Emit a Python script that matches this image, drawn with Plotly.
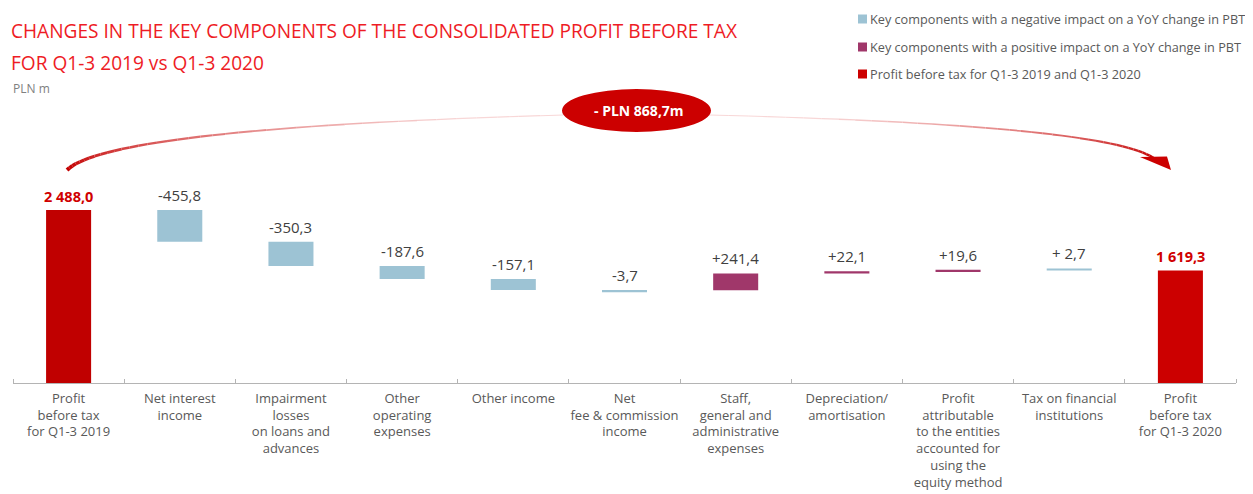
import plotly.graph_objects as go

# ---------------- data ----------------
categories = [
    "Profit<br>before tax<br>for Q1-3 2019",
    "Net interest<br>income",
    "Impairment<br>losses<br>on loans and<br>advances",
    "Other<br>operating<br>expenses",
    "Other income",
    "Net<br>fee & commission<br>income",
    "Staff,<br>general and<br>administrative<br>expenses",
    "Depreciation/<br>amortisation",
    "Profit<br>attributable<br>to the entities<br>accounted for<br>using the<br>equity method",
    "Tax on financial<br>institutions",
    "Profit<br>before tax<br>for Q1-3 2020",
]
start_total = 2488.0
end_total = 1619.3
change_values = [-455.8, -350.3, -187.6, -157.1, -3.7, 241.4, 22.1, 19.6, 2.7]
change_impact = ["neg", "neg", "neg", "neg", "neg", "pos", "pos", "pos", "neg"]
change_labels = ["-455,8", "-350,3", "-187,6", "-157,1", "-3,7", "+241,4", "+22,1", "+19,6", "+ 2,7"]
total_labels = ["2 488,0", "1 619,3"]
total_change_label = "- PLN 868,7m"

legend_keys = ["neg", "pos", "tot"]
legend_names = {
    "neg": "Key components with a negative impact on a YoY change in PBT",
    "pos": "Key components with a positive impact on a YoY change in PBT",
    "tot": "Profit before tax for Q1-3 2019 and Q1-3 2020",
}

# ---------------- layout geometry (page pixels; page body has an 8px margin) ----------------
OFF = 8
FIG_W, FIG_H = 1253 - OFF, 494 - OFF
P_LEFT, P_RIGHT, P_TOP, P_BOTTOM = 13, 1236, 10, 383
ML = P_LEFT - OFF
MR = FIG_W - (P_RIGHT - OFF)
MT = P_TOP - OFF
MB = FIG_H - (P_BOTTOM - OFF)
PW = P_RIGHT - P_LEFT
PH = P_BOTTOM - P_TOP
PX_PER_UNIT = 173 / 2488.0
Y_MAX = PH / PX_PER_UNIT
MIN_UNITS = 2.2 / PX_PER_UNIT  # minimal visible thickness for tiny bars


def px(x):
    return (x - P_LEFT) / PW


def py(y):
    return (P_BOTTOM - y) / PH


COL = {"neg": "#9dc3d4", "pos": "#a0376a", "tot": "#c80000"}

# ---------------- waterfall computation ----------------
n = len(categories)
groups = {"neg": {"x": [], "base": [], "y": []}, "pos": {"x": [], "base": [], "y": []}}
label_pos = []
level = start_total
for i, (v, imp) in enumerate(zip(change_values, change_impact)):
    idx = i + 1
    disp = v if abs(v) >= MIN_UNITS else (MIN_UNITS if v > 0 else -MIN_UNITS)
    groups[imp]["x"].append(idx)
    groups[imp]["base"].append(level)
    groups[imp]["y"].append(disp)
    label_pos.append((idx, max(level, level + disp)))
    level += v

fig = go.Figure()
BAR_W = 0.405
for key in ["neg", "pos"]:
    g = groups[key]
    fig.add_trace(go.Bar(
        x=g["x"], y=g["y"], base=g["base"], width=BAR_W,
        marker=dict(color=COL[key], line=dict(width=0)),
        name=legend_names[key], hoverinfo="skip", showlegend=False,
    ))
fig.add_trace(go.Bar(
    x=[0, n - 1], y=[start_total, end_total], base=[0, 0], width=BAR_W,
    marker=dict(color=["#c00000", "#cc0000"], line=dict(width=0)),
    name=legend_names["tot"], hoverinfo="skip", showlegend=False,
))

annotations = []
for (xi, top), lab in zip(label_pos, change_labels):
    annotations.append(dict(
        x=xi, y=top, xref="x", yref="y", text=lab, showarrow=False,
        yanchor="bottom", yshift=3,
        font=dict(family="Open Sans", size=15, color="#404040"),
    ))
for xi, val, lab in zip([0, n - 1], [start_total, end_total], total_labels):
    annotations.append(dict(
        x=xi, y=val, xref="x", yref="y", text="<b>" + lab + "</b>", showarrow=False,
        yanchor="bottom", yshift=2,
        font=dict(family="Open Sans", size=14.5, color="#d00000"),
    ))

# titles
annotations += [
    dict(x=px(9), y=py(31), xref="paper", yref="paper", xanchor="left", yanchor="middle",
         text="CHANGES IN THE KEY COMPONENTS OF THE CONSOLIDATED PROFIT BEFORE TAX",
         showarrow=False, font=dict(family="Open Sans", size=19.1, color="#ee1c25")),
    dict(x=px(9), y=py(63), xref="paper", yref="paper", xanchor="left", yanchor="middle",
         text="FOR Q1-3 2019 vs Q1-3 2020",
         showarrow=False, font=dict(family="Open Sans", size=19.1, color="#ee1c25")),
    dict(x=px(11), y=py(88), xref="paper", yref="paper", xanchor="left", yanchor="middle",
         text="PLN m", showarrow=False, font=dict(family="Open Sans", size=12, color="#808080")),
    dict(x=px(639), y=py(111), xref="paper", yref="paper", xanchor="center", yanchor="middle",
         text="<b>" + total_change_label + "</b>", showarrow=False,
         font=dict(family="Open Sans", size=14, color="#ffffff")),
]

shapes = []

# ---------------- legend (top right) ----------------
LEG_ROWS = [19, 47, 74]
LEG_COLORS = {"neg": "#9dc3d4", "pos": "#a0376a", "tot": "#cc0000"}
for key, yrow in zip(legend_keys, LEG_ROWS):
    shapes.append(dict(type="rect", xref="paper", yref="paper",
                       x0=px(858), x1=px(867), y0=py(yrow + 4.5), y1=py(yrow - 4.5),
                       fillcolor=LEG_COLORS[key], line=dict(width=0)))
    annotations.append(dict(x=px(868), y=py(yrow), xref="paper", yref="paper",
                            xanchor="left", yanchor="middle", text=legend_names[key],
                            showarrow=False,
                            font=dict(family="Open Sans", size=12.7, color="#595959")))

# ---------------- decorative arc with arrow ----------------


def bez(p0, p1, p2, t):
    a = (1 - t) ** 2
    b = 2 * t * (1 - t)
    c = t ** 2
    return (a * p0[0] + b * p1[0] + c * p2[0], a * p0[1] + b * p1[1] + c * p2[1])


def mix(c1, c2, f):
    return "rgb(%d,%d,%d)" % tuple(round(c1[k] + (c2[k] - c1[k]) * f) for k in range(3))


DARK = (195, 0, 0)
LIGHT = (248, 215, 215)
N = 40
# left arc: dark & thick at start -> light & thin at ellipse
p0, p1, p2 = (67, 170), (110, 128), (563, 115)
for k in range(N):
    t0, t1 = k / N, (k + 1) / N
    a, b = bez(p0, p1, p2, t0), bez(p0, p1, p2, t1)
    f = min(1.0, t0 * 1.15)
    shapes.append(dict(type="line", xref="paper", yref="paper",
                       x0=px(a[0]), y0=py(a[1]), x1=px(b[0]), y1=py(b[1]),
                       line=dict(color=mix(DARK, LIGHT, f), width=4 - 3 * t0 ** 0.6)))
# right arc: light & thin at ellipse -> dark at arrow
p0, p1, p2 = (709, 115), (1110, 125), (1155, 159)
for k in range(N):
    t0, t1 = k / N, (k + 1) / N
    a, b = bez(p0, p1, p2, t0), bez(p0, p1, p2, t1)
    f = min(1.0, (1 - t1) * 1.2)
    shapes.append(dict(type="line", xref="paper", yref="paper",
                       x0=px(a[0]), y0=py(a[1]), x1=px(b[0]), y1=py(b[1]),
                       line=dict(color=mix(DARK, LIGHT, f), width=1 + 1.5 * t1)))
# arrowhead
tri = [(1140, 157), (1167, 156.5), (1171, 170)]
path = "M %f,%f L %f,%f L %f,%f Z" % tuple(v for p in tri for v in (px(p[0]), py(p[1])))
shapes.append(dict(type="path", xref="paper", yref="paper", path=path,
                   fillcolor="#cc0000", line=dict(width=0)))
# ellipse
shapes.append(dict(type="circle", xref="paper", yref="paper",
                   x0=px(562), x1=px(711), y0=py(132), y1=py(89),
                   fillcolor="#cc0000", line=dict(width=0)))

fig.update_layout(
    width=FIG_W, height=FIG_H,
    margin=dict(l=ML, r=MR, t=MT, b=MB, pad=0, autoexpand=False),
    paper_bgcolor="white", plot_bgcolor="white",
    barmode="overlay",
    font=dict(family="Open Sans", color="#595959"),
    showlegend=False,
    xaxis=dict(
        range=[-0.5, n - 0.5], tickmode="array", tickvals=list(range(n)), ticktext=categories,
        ticks="", tickangle=0, showline=True, linecolor="#b4b4b4", linewidth=1,
        showgrid=False, zeroline=False, automargin=False, ticklabelstandoff=3,
        tickfont=dict(family="Open Sans", size=13, color="#595959"),
        minor=dict(tickmode="array", tickvals=[i - 0.5 for i in range(n + 1)],
                   ticks="inside", ticklen=4, tickcolor="#b4b4b4", tickwidth=1, showgrid=False),
        fixedrange=True,
    ),
    yaxis=dict(range=[0, Y_MAX], visible=False, fixedrange=True),
    annotations=annotations,
    shapes=shapes,
)

fig.write_html("out.html")
